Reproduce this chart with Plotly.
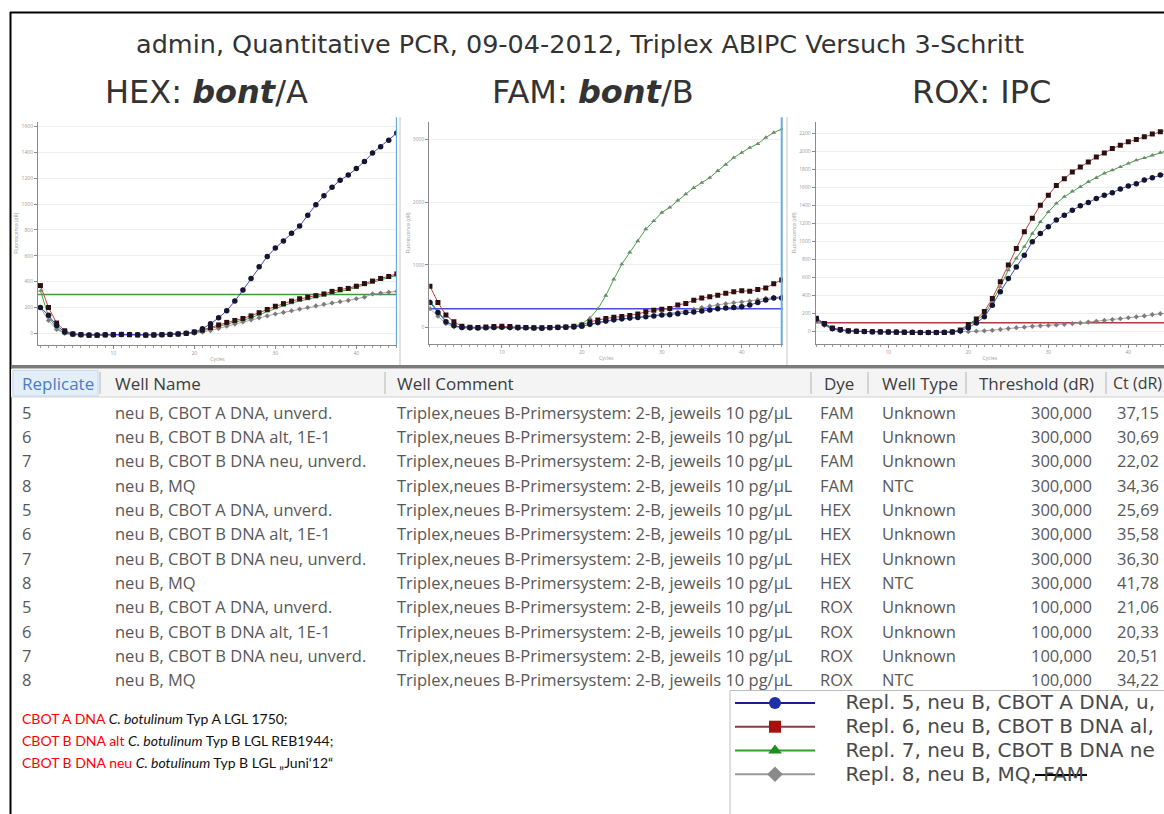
import plotly.graph_objects as go

W, H = 1164, 814


def px(x):
    return x / W


def py(y):
    return 1 - y / H


# ---------------------------------------------------------------- curve data
cycles = list(range(1, 46))

# HEX channel (bont/A), dR per cycle
hex_rep5 = [200, 140, 60, 10, -5, -10, -12, -12, -10, -10, -8, -8, -10, -12, -12,
            -10, -8, -5, 0, 10, 35, 75, 120, 175, 250, 335, 425, 515, 595, 660,
            715, 775, 830, 915, 995, 1065, 1130, 1185, 1225, 1275, 1330, 1395, 1445, 1495, 1550]
hex_rep6 = [370, 200, 80, 20, -5, -10, -15, -15, -12, -10, -8, -10, -12, -14, -12,
            -10, -8, -5, 0, 10, 25, 45, 65, 85, 100, 115, 135, 160, 185, 210,
            230, 250, 268, 280, 292, 305, 325, 340, 348, 365, 385, 405, 425, 440, 460]
hex_rep7 = [330, 130, 40, 0, -10, -12, -14, -12, -10, -8, -10, -12, -12, -10, -8,
            -8, -6, -4, 0, 5, 20, 38, 55, 72, 88, 102, 120, 145, 170, 195,
            215, 235, 252, 266, 280, 295, 312, 325, 338, 355, 375, 395, 415, 432, 450]
hex_rep8 = [200, 100, 30, 0, -10, -12, -12, -10, -10, -12, -12, -10, -8, -10, -10,
            -8, -6, -4, -2, 0, 10, 22, 38, 55, 72, 88, 105, 120, 135, 150,
            162, 175, 188, 200, 212, 225, 235, 245, 255, 268, 280, 305, 312, 318, 325]

# FAM channel (bont/B)
fam_rep5 = [400, 240, 90, 30, 0, -5, -8, -5, 0, 5, 0, -5, -5, -8, -10,
            -5, 0, 5, 10, 20, 50, 80, 105, 125, 140, 150, 160, 170, 185, 200,
            205, 220, 240, 248, 262, 280, 298, 311, 320, 330, 360, 400, 440, 470, 470]
fam_rep6 = [660, 400, 200, 90, 20, 5, 0, 10, 15, 20, 15, 5, 0, -5, -5,
            0, 5, 10, 20, 40, 90, 120, 145, 165, 175, 190, 215, 250, 275, 290,
            305, 360, 385, 435, 470, 490, 515, 545, 570, 585, 580, 605, 630, 700, 760]
fam_rep7 = [420, 260, 100, 30, 0, -5, -5, 0, 5, 5, 0, -5, -10, -10, -5,
            0, 5, 10, 20, 60, 150, 297, 510, 770, 1010, 1200, 1380, 1570, 1700, 1835,
            1915, 2030, 2130, 2230, 2310, 2390, 2500, 2600, 2710, 2790, 2870, 2930, 3030, 3110, 3165]
fam_rep8 = [300, 180, 60, 10, -5, -10, -10, -5, 0, 0, -5, -10, -10, -12, -10,
            -5, 0, 5, 10, 20, 45, 70, 95, 115, 130, 145, 160, 175, 190, 205,
            225, 245, 265, 290, 318, 340, 360, 380, 395, 405, 420, 440, 465, 480, 490]

# ROX channel (internal positive control)
rox_rep5 = [140, 85, 35, 20, 8, 5, 2, 0, 0, -2, -4, -5, -6, -8, -8,
            -8, -6, -2, 10, 45, 97, 165, 295, 445, 590, 720, 850, 1000, 1090, 1165,
            1240, 1295, 1350, 1400, 1435, 1480, 1515, 1545, 1585, 1620, 1645, 1685, 1710, 1740, 1765]
rox_rep6 = [150, 90, 40, 25, 10, 5, 2, 0, -2, -4, -5, -6, -8, -10, -10,
            -10, -8, -4, 20, 80, 140, 225, 370, 555, 740, 925, 1110, 1260, 1405, 1515,
            1625, 1700, 1775, 1830, 1885, 1940, 1985, 2035, 2070, 2110, 2135, 2165, 2195, 2220, 2245]
rox_rep7 = [130, 80, 30, 20, 8, 4, 2, 0, -2, -3, -4, -6, -7, -8, -9,
            -9, -6, -2, 15, 70, 128, 190, 335, 500, 685, 815, 945, 1090, 1220, 1330,
            1425, 1500, 1560, 1610, 1665, 1710, 1760, 1795, 1830, 1870, 1905, 1930, 1960, 1990, 2015]
rox_rep8 = [120, 70, 25, 15, 5, 2, 0, -2, -3, -4, -5, -6, -7, -8, -8,
            -8, -7, -5, -2, 0, 5, 10, 15, 25, 35, 45, 50, 60, 65, 70,
            75, 82, 90, 98, 107, 115, 125, 135, 145, 155, 165, 175, 190, 200, 210]

hex_threshold = 300
fam_threshold = 300
rox_threshold = 100

hex_yticks = [0, 200, 400, 600, 800, 1000, 1200, 1400, 1600]
fam_yticks = [0, 1000, 2000, 3000]
rox_yticks = [0, 200, 400, 600, 800, 1000, 1200, 1400, 1600, 1800, 2000, 2200]
cycle_ticks = [10, 20, 30, 40]

# ---------------------------------------------------------------- table data
table_headers = ["Replicate", "Well Name", "Well Comment", "Dye", "Well Type",
                 "Threshold (dR)", "Ct (dR)"]
replicates = ["5", "6", "7", "8", "5", "6", "7", "8", "5", "6", "7", "8"]
well_names = ["neu B, CBOT A DNA, unverd.", "neu B, CBOT B DNA alt, 1E-1",
              "neu B, CBOT B DNA neu, unverd.", "neu B, MQ",
              "neu B, CBOT A DNA, unverd.", "neu B, CBOT B DNA alt, 1E-1",
              "neu B, CBOT B DNA neu, unverd.", "neu B, MQ",
              "neu B, CBOT A DNA, unverd.", "neu B, CBOT B DNA alt, 1E-1",
              "neu B, CBOT B DNA neu, unverd.", "neu B, MQ"]
well_comments = ["Triplex,neues B-Primersystem: 2-B, jeweils 10 pg/µL"] * 12
dyes = ["FAM", "FAM", "FAM", "FAM", "HEX", "HEX", "HEX", "HEX",
        "ROX", "ROX", "ROX", "ROX"]
well_types = ["Unknown", "Unknown", "Unknown", "NTC", "Unknown", "Unknown",
              "Unknown", "NTC", "Unknown", "Unknown", "Unknown", "NTC"]
thresholds_dr = [300, 300, 300, 300, 300, 300, 300, 300, 100, 100, 100, 100]
ct_values = [37.15, 30.69, 22.02, 34.36, 25.69, 35.58, 36.30, 41.78,
             21.06, 20.33, 20.51, 34.22]

legend_names = ["Repl. 5, neu B, CBOT A DNA, u,",
                "Repl. 6, neu B, CBOT B DNA al,",
                "Repl. 7, neu B, CBOT B DNA ne",
                "Repl. 8, neu B, MQ, FAM"]

# ---------------------------------------------------------------- styles
curve_style = {
    5: dict(line="#3b4bd0", marker="#15152e", symbol="circle", size=5.5),
    6: dict(line="#c84040", marker="#2a1010", symbol="square", size=5),
    7: dict(line="#3aa83a", marker="#6f866f", symbol="triangle-up", size=4.5),
    8: dict(line="#a8a8a8", marker="#7c7c7c", symbol="diamond", size=4),
}
legend_style = {
    5: dict(line="#1c1c8c", marker="#1f2fa8", symbol="circle"),
    6: dict(line="#8a3c3c", marker="#a80f0f", symbol="square"),
    7: dict(line="#2e9e2e", marker="#1e8e1e", symbol="triangle-up"),
    8: dict(line="#9a9a9a", marker="#8a8a8a", symbol="diamond"),
}

fig = go.Figure()

panels = [
    ("x", "y", {5: hex_rep5, 6: hex_rep6, 7: hex_rep7, 8: hex_rep8}),
    ("x2", "y2", {5: fam_rep5, 6: fam_rep6, 7: fam_rep7, 8: fam_rep8}),
    ("x3", "y3", {5: rox_rep5, 6: rox_rep6, 7: rox_rep7, 8: rox_rep8}),
]
for xa, ya, series in panels:
    for rep in (8, 7, 6, 5):
        st = curve_style[rep]
        fig.add_trace(go.Scatter(
            x=cycles, y=series[rep], xaxis=xa, yaxis=ya, mode="lines+markers",
            line=dict(color=st["line"], width=1),
            marker=dict(color=st["marker"], symbol=st["symbol"], size=st["size"]),
            showlegend=False, hoverinfo="skip"))

# legend entries: wider glyphs inside a 16px legend row keep the row pitch tight
legend_label = '<span style="font-size:20px">\u00a0\u00a0\u00a0\u00a0{}</span>'
for rep, name in zip((5, 6, 7, 8), legend_names):
    st = legend_style[rep]
    fig.add_trace(go.Scatter(
        x=[None], y=[None], mode="lines+markers", name=legend_label.format(name),
        line=dict(color=st["line"], width=2),
        marker=dict(color=st["marker"], symbol=st["symbol"], size=12),
        showlegend=True))

tick_font = dict(family="Open Sans", size=5, color="#9a9a9a")
title_font = dict(family="Open Sans", size=5, color="#9a9a9a")


def x_axis(domain, rng, anchor):
    return dict(domain=domain, range=rng, anchor=anchor, tickvals=cycle_ticks,
                ticks="outside", ticklen=3, tickcolor="#8a8a8a", tickfont=tick_font,
                showline=True, linecolor="#8a8a8a", linewidth=1, showgrid=False,
                zeroline=False, minor=dict(dtick=1, ticks="outside", ticklen=2,
                                           tickcolor="#9a9a9a"),
                title=dict(text="Cycles", font=title_font, standoff=2))


def y_axis(domain, rng, anchor, ticks):
    return dict(domain=domain, range=rng, anchor=anchor, tickvals=ticks,
                ticks="outside", ticklen=3, tickcolor="#8a8a8a", tickfont=tick_font,
                showline=True, linecolor="#8a8a8a", linewidth=1, showgrid=True,
                gridcolor="#eeeeee", gridwidth=1, zeroline=False,
                title=dict(text="Fluorescence (dR)", font=title_font, standoff=2))


fig.update_layout(
    width=W, height=H, margin=dict(l=0, r=0, t=0, b=0, autoexpand=False),
    paper_bgcolor="white", plot_bgcolor="white",
    xaxis=x_axis([px(38), px(397)], [0.7, 45.02], "y"),
    yaxis=y_axis([py(345), py(121.7)], [-90, 1638], "x", hex_yticks),
    xaxis2=x_axis([px(429.3), px(783)], [0.92, 45.16], "y2"),
    yaxis2=y_axis([py(344.3), py(121.7)], [-268, 3284], "x2", fam_yticks),
    xaxis3=x_axis([px(815.7), 1.0], [0.92, 44.46], "y3"),
    yaxis3=y_axis([py(344.3), py(121.7)], [-140, 2333], "x3", rox_yticks),
    legend=dict(x=px(730), y=py(686), xanchor="left", yanchor="top",
                bgcolor="rgba(0,0,0,0)", borderwidth=0,
                font=dict(family="DejaVu Sans", size=16, color="#4a4a4a"),
                itemwidth=80, tracegroupgap=0, itemclick=False,
                itemdoubleclick=False),
)

shapes = []
# slide frame
shapes.append(dict(type="line", xref="paper", yref="paper", x0=px(10.5), x1=px(10.5),
                   y0=py(12), y1=0, line=dict(color="black", width=2)))
shapes.append(dict(type="line", xref="paper", yref="paper", x0=px(10), x1=1,
                   y0=py(12.5), y1=py(12.5), line=dict(color="black", width=2)))
# separators between the three amplification plots
for xs in (400, 787):
    shapes.append(dict(type="line", xref="paper", yref="paper", x0=px(xs), x1=px(xs),
                       y0=py(117), y1=py(365), line=dict(color="#e2e2e2", width=2)))
# threshold lines
for xa, ya, thr, col in (("x", "y", hex_threshold, "#3f9a3f"),
                         ("x2", "y2", fam_threshold, "#4a4af0"),
                         ("x3", "y3", rox_threshold, "#b23a3a")):
    shapes.append(dict(type="line", xref=xa + " domain", yref=ya, x0=0, x1=1,
                       y0=thr, y1=thr, line=dict(color=col, width=1.5), layer="below"))
# end-of-run cursor lines
for xa, ya in (("x", "y"), ("x2", "y2")):
    shapes.append(dict(type="line", xref=xa, yref=ya + " domain", x0=cycles[-1],
                       x1=cycles[-1], y0=0, y1=1.02, line=dict(color="#6aaae6", width=2)))
# table chrome
shapes.append(dict(type="rect", xref="paper", yref="paper", x0=px(11), x1=1,
                   y0=py(365), y1=py(368.5), fillcolor="#7a7a7a", line=dict(width=0)))
shapes.append(dict(type="rect", xref="paper", yref="paper", x0=px(11), x1=1,
                   y0=py(369), y1=py(397), fillcolor="#f4f4f4", line=dict(width=0)))
shapes.append(dict(type="line", xref="paper", yref="paper", x0=px(11), x1=1,
                   y0=py(397), y1=py(397), line=dict(color="#d2d2d2", width=1)))
shapes.append(dict(type="rect", xref="paper", yref="paper", x0=px(13), x1=px(98),
                   y0=py(370.5), y1=py(396), fillcolor="#e4eef9",
                   line=dict(color="#c6d9ee", width=1)))
for xs in (100, 385, 811, 868, 966, 1106):
    shapes.append(dict(type="line", xref="paper", yref="paper", x0=px(xs), x1=px(xs),
                       y0=py(372), y1=py(394), line=dict(color="#b4b4b4", width=1)))
# legend frame (runs off the right and bottom edges)
shapes.append(dict(type="rect", xref="paper", yref="paper", x0=px(730), x1=px(1180),
                   y0=py(690.5), y1=py(830), fillcolor="white",
                   line=dict(color="#bdbdbd", width=1)))
# strike-through over "FAM" in the legend
shapes.append(dict(type="line", xref="paper", yref="paper", x0=px(1035), x1=px(1087),
                   y0=py(775), y1=py(775), line=dict(color="black", width=2)))
fig.update_layout(shapes=shapes)

ann = []


def text(x, y, s, size, color, family, anchor="left"):
    ann.append(dict(x=px(x), y=py(y), xref="paper", yref="paper", text=s,
                    showarrow=False, xanchor=anchor, yanchor="middle",
                    font=dict(family=family, size=size, color=color)))


# titles
text(580, 44, "admin, Quantitative PCR, 09-04-2012, Triplex ABIPC Versuch 3-Schritt",
     25.5, "#333333", "DejaVu Sans", "center")
text(206, 92, "HEX: <b><i>bont</i></b>/A", 32, "#333333", "DejaVu Sans", "center")
text(593, 92, "FAM: <b><i>bont</i></b>/B", 32, "#333333", "DejaVu Sans", "center")
text(981, 92, "ROX: IPC", 32, "#333333", "DejaVu Sans", "center")

# table
tfont = "Open Sans"
tsize = 16.5
tcol = "#585858"
header_x = [20, 113, 395, 822, 880, 977, 1111]
for hx, h in zip(header_x, table_headers):
    text(hx, 383, h, 16 if h == "Ct (dR)" else 17,
         "#4b7cc0" if h == "Replicate" else "#3c3c3c", tfont)

row_y0, row_dy = 412, 24.36
for i in range(len(replicates)):
    y = row_y0 + i * row_dy
    text(20, y, replicates[i], tsize, tcol, tfont)
    text(113, y, well_names[i], tsize, tcol, tfont)
    text(395, y, well_comments[i], tsize, tcol, tfont)
    text(818, y, dyes[i], tsize, tcol, tfont)
    text(880, y, well_types[i], tsize, tcol, tfont)
    text(1094, y, f"{thresholds_dr[i]:.3f}".replace(".", ","), tsize, tcol, tfont, "right")
    text(1115, y, f"{ct_values[i]:.2f}".replace(".", ","), tsize, tcol, tfont)

# strain notes
red = '<span style="color:#ff0000">{}</span>'
notes = [
    red.format("CBOT A DNA") + " <i>C. botulinum</i> Typ A LGL 1750;",
    red.format("CBOT B DNA alt") + " <i>C. botulinum</i> Typ B LGL REB1944;",
    red.format("CBOT B DNA neu") + " <i>C. botulinum</i> Typ B LGL \u201eJuni\u201812\u201c",
]
for k, s in enumerate(notes):
    text(20, 718 + k * 22, s, 14, "#111111", "Lato")

fig.update_layout(annotations=ann)

fig.write_html("out.html")
